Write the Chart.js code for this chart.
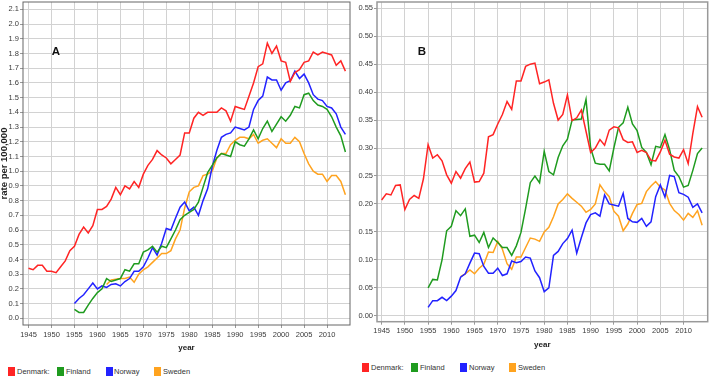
<!DOCTYPE html>
<html>
<head>
<meta charset="utf-8">
<script src="https://cdn.jsdelivr.net/npm/chart.js@4/dist/chart.umd.min.js"></script>
<style>
  body { margin: 0; background: #fff; width: 709px; height: 377px; overflow: hidden; position: relative;
         font-family: "Liberation Sans", Arial, sans-serif; }
  canvas { position: absolute; top: 0; }
  #ca { left: 0; }
  #cb { left: 355px; }
  .leg { position: absolute; font-size: 7.5px; line-height: 9px; color: #333; white-space: nowrap; }
  .sq { position: absolute; width: 7px; height: 9px; }
</style>
</head>
<body>
<canvas id="ca" width="355" height="360"></canvas>
<canvas id="cb" width="354" height="360"></canvas>
<div id="legends"></div>
<script>
// Nordic rates per 100,000, 1945-2014 — panel A and panel B

const countries = ['Denmark:', 'Finland', 'Norway', 'Sweden'];
const colors    = ['#ff2424', '#1f9b1f', '#2222ff', '#ffa31f'];
const startYears = [1945, 1955, 1955, 1962];

const yearTicks = [1945, 1950, 1955, 1960, 1965, 1970, 1975, 1980, 1985, 1990, 1995, 2000, 2005, 2010];
const ticksA = [0, 0.1, 0.2, 0.3, 0.4, 0.5, 0.6, 0.7, 0.8, 0.9, 1.0, 1.1, 1.2, 1.3, 1.4, 1.5, 1.6, 1.7, 1.8, 1.9, 2.0, 2.1];
const ticksB = [0, 0.05, 0.10, 0.15, 0.20, 0.25, 0.30, 0.35, 0.40, 0.45, 0.50, 0.55];

// panel A
const denmarkA = [
  0.34, 0.33, 0.36, 0.36, 0.32, 0.32, 0.31, 0.35, 0.39, 0.46,
  0.49, 0.57, 0.62, 0.58, 0.63, 0.74, 0.74, 0.76, 0.81, 0.89,
  0.84, 0.90, 0.88, 0.93, 0.89, 0.98, 1.04, 1.08, 1.14, 1.11,
  1.09, 1.05, 1.08, 1.11, 1.26, 1.26, 1.36, 1.40, 1.38, 1.40,
  1.40, 1.40, 1.43, 1.41, 1.34, 1.44, 1.43, 1.42, 1.51, 1.60,
  1.71, 1.73, 1.87, 1.80, 1.85, 1.75, 1.74, 1.61, 1.67, 1.69,
  1.74, 1.75, 1.81, 1.79, 1.81, 1.80, 1.79, 1.72, 1.75, 1.68];
const finlandA = [
  0.06, 0.04, 0.04, 0.09, 0.135, 0.175, 0.20, 0.27, 0.25, 0.26,
  0.27, 0.33, 0.32, 0.37, 0.37, 0.45, 0.465, 0.49, 0.45, 0.49,
  0.48, 0.54, 0.60, 0.67, 0.70, 0.72, 0.74, 0.79, 0.89, 0.99,
  1.04, 1.09, 1.12, 1.11, 1.10, 1.20, 1.18, 1.17, 1.22, 1.28,
  1.22, 1.29, 1.34, 1.27, 1.32, 1.37, 1.34, 1.38, 1.44, 1.43,
  1.52, 1.53, 1.48, 1.45, 1.44, 1.42, 1.37, 1.30, 1.24, 1.13];
const norwayA = [
  0.10, 0.135, 0.16, 0.20, 0.24, 0.20, 0.22, 0.21, 0.23, 0.235,
  0.22, 0.25, 0.27, 0.32, 0.32, 0.35, 0.41, 0.48, 0.43, 0.51,
  0.61, 0.60, 0.68, 0.755, 0.79, 0.73, 0.755, 0.70, 0.80, 0.88,
  1.03, 1.14, 1.23, 1.25, 1.26, 1.30, 1.29, 1.28, 1.30, 1.42,
  1.48, 1.51, 1.64, 1.62, 1.62, 1.55, 1.60, 1.615, 1.68, 1.63,
  1.66, 1.60, 1.52, 1.49, 1.48, 1.44, 1.43, 1.39, 1.30, 1.25];
const swedenA = [
  0.23, 0.26, 0.265,
  0.27, 0.27, 0.28, 0.245, 0.30, 0.33, 0.35, 0.38, 0.41, 0.44,
  0.44, 0.46, 0.54, 0.60, 0.75, 0.86, 0.89, 0.90, 0.97, 0.98,
  1.00, 1.09, 1.12, 1.12, 1.18, 1.21, 1.23, 1.23, 1.22, 1.25,
  1.19, 1.21, 1.22, 1.19, 1.16, 1.22, 1.19, 1.19, 1.23, 1.20,
  1.12, 1.05, 1.00, 0.98, 0.98, 0.93, 0.97, 0.97, 0.93, 0.84];

// panel B
const denmarkB = [
  0.207, 0.218, 0.216, 0.233, 0.234, 0.19, 0.208, 0.215, 0.21, 0.245,
  0.306, 0.282, 0.288, 0.277, 0.252, 0.237, 0.258, 0.246, 0.263, 0.275,
  0.239, 0.24, 0.255, 0.32, 0.324, 0.343, 0.36, 0.383, 0.369, 0.42,
  0.42, 0.446, 0.45, 0.452, 0.415, 0.418, 0.422, 0.38, 0.35, 0.36,
  0.395, 0.349, 0.354, 0.368, 0.33, 0.292, 0.30, 0.315, 0.305, 0.332,
  0.338, 0.336, 0.315, 0.31, 0.311, 0.292, 0.296, 0.292, 0.278, 0.277,
  0.293, 0.314, 0.289, 0.284, 0.282, 0.297, 0.272, 0.326, 0.374, 0.355];
const finlandB = [
  0.05, 0.065, 0.064, 0.10, 0.152, 0.16, 0.188, 0.179, 0.191, 0.142,
  0.144, 0.131, 0.149, 0.122, 0.139, 0.131, 0.122, 0.122, 0.108, 0.125,
  0.149, 0.192, 0.238, 0.25, 0.238, 0.294, 0.258, 0.252, 0.283, 0.304,
  0.316, 0.35, 0.351, 0.352, 0.387, 0.30, 0.273, 0.271, 0.271, 0.259,
  0.30, 0.337, 0.345, 0.373, 0.343, 0.331, 0.301, 0.292, 0.27, 0.303,
  0.301, 0.324, 0.297, 0.26, 0.249, 0.23, 0.233, 0.26, 0.29, 0.30];
const norwayB = [
  0.015, 0.027, 0.027, 0.033, 0.027, 0.035, 0.045, 0.069, 0.075, 0.094,
  0.112, 0.111, 0.088, 0.076, 0.076, 0.085, 0.072, 0.075, 0.098, 0.095,
  0.097, 0.105, 0.103, 0.08, 0.068, 0.043, 0.05, 0.108, 0.115, 0.129,
  0.138, 0.153, 0.112, 0.14, 0.166, 0.181, 0.184, 0.178, 0.216, 0.20,
  0.198, 0.196, 0.219, 0.174, 0.168, 0.167, 0.174, 0.16, 0.168, 0.213,
  0.234, 0.212, 0.251, 0.249, 0.22, 0.217, 0.212, 0.194, 0.20, 0.184];
const swedenB = [
  0.07, 0.075, 0.082,
  0.075, 0.085, 0.092, 0.114, 0.113, 0.133, 0.119, 0.093, 0.083, 0.105,
  0.105, 0.122, 0.139, 0.137, 0.133, 0.15, 0.158, 0.177, 0.20, 0.208,
  0.218, 0.21, 0.203, 0.196, 0.185, 0.19, 0.20, 0.234, 0.222, 0.213,
  0.187, 0.178, 0.152, 0.164, 0.183, 0.199, 0.201, 0.222, 0.232, 0.24,
  0.23, 0.225, 0.201, 0.188, 0.181, 0.171, 0.183, 0.176, 0.188, 0.162];

const FONT = '"Liberation Sans", Arial, sans-serif';

function pts(start, vals) {
  return vals.map((v, i) => ({ x: start + i, y: v }));
}

const framePlugin = {
  id: 'frame',
  afterDraw(chart, args, o) {
    const { ctx, chartArea: a } = chart;
    ctx.save();
    ctx.strokeStyle = o.color;
    ctx.lineWidth = o.width;
    ctx.strokeRect(a.left, a.top, a.right - a.left, a.bottom - a.top);
    ctx.fillStyle = '#111';
    ctx.font = 'bold 11.5px ' + FONT;
    ctx.fillText(o.letter, o.lx, o.ly);
    ctx.restore();
  }
};

function makeChart(id, p) {
  const grid = { color: '#d2d2d2', tickLength: 3, tickColor: '#999' };
  const tickFont = { family: FONT, size: 7.5 };
  return new Chart(document.getElementById(id), {
    type: 'line',
    data: {
      datasets: p.series.map((vals, i) => ({
        label: countries[i],
        data: pts(startYears[i], vals),
        borderColor: colors[i],
        borderWidth: 1.5,
        pointRadius: 0,
        fill: false,
      })),
    },
    options: {
      responsive: false,
      animation: false,
      devicePixelRatio: 1,
      layout: { padding: { top: 2, right: p.padRight, left: 0, bottom: 0 } },
      plugins: {
        legend: { display: false },
        tooltip: { enabled: false },
        frame: p.frame,
      },
      scales: {
        x: {
          type: 'linear', min: p.xMin, max: p.xMax,
          afterBuildTicks: s => { s.ticks = yearTicks.map(v => ({ value: v })); },
          afterFit: s => { s.height = p.xHeight; s.paddingLeft = 0; s.paddingRight = 0; },
          ticks: { font: tickFont, color: '#3a3a3a', padding: 2, maxRotation: 0, autoSkip: false,
                   callback: v => String(v) },
          grid, border: { display: false },
          title: { display: true, text: 'year', color: '#222',
                   font: { family: FONT, size: 8, weight: 'bold' },
                   padding: { top: 0, bottom: p.xTitlePad } },
        },
        y: {
          min: p.yMin, max: p.yMax,
          afterBuildTicks: s => { s.ticks = p.yTicks.map(v => ({ value: v })); },
          afterFit: s => { s.width = p.yWidth; s.paddingTop = 0; s.paddingBottom = 0; },
          ticks: { font: tickFont, color: '#3a3a3a', padding: 1, autoSkip: false,
                   callback: v => v.toFixed(p.yDec) },
          grid, border: { display: false },
          title: { display: !!p.yTitle, text: p.yTitle || '', color: '#222',
                   font: { family: FONT, size: 9.5, weight: 'bold', lineHeight: 1 },
                   padding: 0 },
        },
      },
    },
    plugins: [framePlugin],
  });
}

makeChart('ca', {
  series: [denmarkA, finlandA, norwayA, swedenA],
  xMin: 1943.8, xMax: 2015, yMin: -0.0455, yMax: 2.15,
  yTicks: ticksA, yDec: 1, yWidth: 23, xHeight: 35, xTitlePad: 7.2, padRight: 5,
  yTitle: 'rate per 100,000',
  frame: { color: '#666', width: 1, letter: 'A', lx: 51.7, ly: 54.5 },
});

makeChart('cb', {
  series: [denmarkB, finlandB, norwayB, swedenB],
  xMin: 1944, xMax: 2015.2, yMin: -0.0107, yMax: 0.5612,
  yTicks: ticksB, yDec: 2, yWidth: 22, xHeight: 38.3, xTitlePad: 10.7, padRight: 1.3,
  yTitle: '',
  frame: { color: '#999', width: 1.5, letter: 'B', lx: 62.7, ly: 54.5 },
});

// legends below each panel
const legendPos = [
  { sq: [8, 57, 106, 154], tx: [17, 66, 114, 163], cy: 371 },
  { sq: [362, 411, 460, 509], tx: [371, 420, 469, 518], cy: 367 },
];
const host = document.getElementById('legends');
legendPos.forEach(L => {
  countries.forEach((c, i) => {
    const sq = document.createElement('div');
    sq.className = 'sq';
    sq.style.left = L.sq[i] + 'px';
    sq.style.top = (L.cy - 4.5) + 'px';
    sq.style.background = colors[i];
    host.appendChild(sq);
    const t = document.createElement('div');
    t.className = 'leg';
    t.style.left = L.tx[i] + 'px';
    t.style.top = (L.cy - 4.5) + 'px';
    t.textContent = c;
    host.appendChild(t);
  });
});
</script>
</body>
</html>
